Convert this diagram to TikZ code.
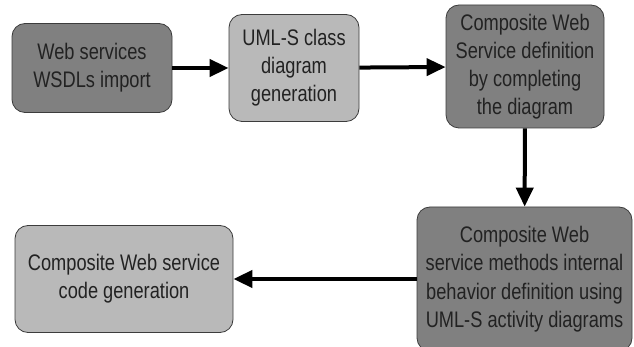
\documentclass[tikz,border=0pt]{standalone}
\usepackage{fontspec}
\setmainfont{Liberation Sans}[FakeStretch=0.81]
\usetikzlibrary{arrows.meta}
\definecolor{darkbox}{HTML}{808080}
\definecolor{lightbox}{HTML}{B9B9B9}
\definecolor{boxline}{HTML}{3C3C3C}
\definecolor{boxtext}{HTML}{222222}
\begin{document}
\begin{tikzpicture}[x=1pt,y=-1pt,
    stage/.style={draw=boxline,line width=0.8pt,rounded corners=13pt,align=center,
      text=boxtext,inner sep=0pt,font=\fontsize{22.5}{28}\selectfont},
    darkstage/.style={stage,fill=darkbox},
    lightstage/.style={stage,fill=lightbox},
    flow/.style={line width=4pt,-{Triangle[length=19pt,width=17pt]}}]
  \clip (0,0) rectangle (634,347);
  \fill[white] (0,0) rectangle (634,347);
  \node[darkstage,minimum width=160pt,minimum height=89pt] (wsdl) at (92,68) {Web services\\WSDLs import};
  \node[lightstage,minimum width=130pt,minimum height=107pt] (classdiag) at (294,68) {UML-S class\\diagram\\generation};
  \node[darkstage,minimum width=158pt,minimum height=123pt] (compdef) at (525,66.5) {Composite Web\\Service definition\\by completing\\the diagram};
  \node[darkstage,minimum width=215pt,minimum height=144pt] (behavior) at (524.5,279) {};
  \node[text=boxtext,align=center,font=\fontsize{22.5}{28.5}\selectfont] at (524.5,279) {Composite Web\\service methods internal\\behavior definition using\\UML-S activity diagrams};
  \node[lightstage,minimum width=218pt,minimum height=107pt] (codegen) at (124,279) {Composite Web service\\code generation};
  \draw[flow] (wsdl) -- (classdiag);
  \draw[flow] (classdiag) -- (compdef);
  \draw[flow] (compdef) -- (behavior);
  \draw[flow] (behavior) -- (codegen);
\end{tikzpicture}
\end{document}
